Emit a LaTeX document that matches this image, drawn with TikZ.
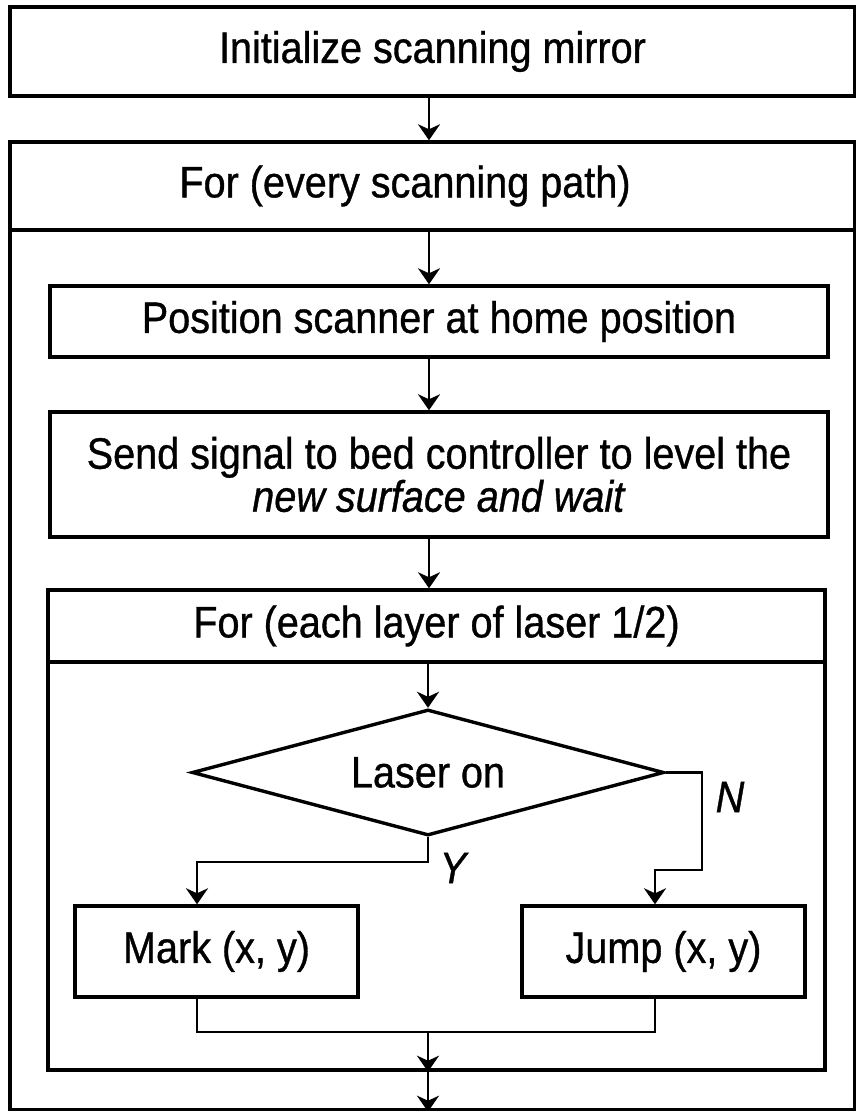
\documentclass[tikz,border=0pt]{standalone}
\usepackage{fontspec}
\setmainfont{Liberation Sans}[FakeStretch=0.9,FakeBold=0.8]
\usetikzlibrary{arrows.meta,shapes.geometric}
\begin{document}
\begin{tikzpicture}[x=1pt,y=-1pt,
  box/.style={draw,line width=3.4pt,rectangle,inner sep=0pt,font=\fontsize{44}{43}\selectfont},
  dec/.style={draw,line width=3.4pt,diamond,inner sep=0pt,aspect=3.75,font=\fontsize{44}{43}\selectfont},
  arr/.style={line width=2.6pt,-{Stealth[length=16pt,width=22pt,inset=5pt]}},
  conn/.style={line width=2.6pt},
  lbl/.style={inner sep=0pt,font=\fontsize{44}{43}\selectfont\itshape}]
\useasboundingbox (0,0) rectangle (856,1111);
\fill[white] (0,0) rectangle (856,1111);
\coordinate (axis) at (429,0);
\coordinate (mj) at (197,0);
\coordinate (jx) at (655,0);
\coordinate (ybend) at (0,862);
\coordinate (nx) at (702,870);
\coordinate (merge) at (428,1032);
% boxes
\node[box,minimum width=845,minimum height=89] (init) at (432.5,51.5) {Initialize scanning mirror};
\node[box,minimum width=845,minimum height=968] (outer) at (432.5,626) {};
\node[box,minimum width=845,minimum height=88] (hdr1) at (432.5,186) {\hspace*{-55pt}For (every scanning path)};
\node[box,minimum width=778,minimum height=71] (pos) at (439,321.5) {Position scanner at home position};
\node[box,minimum width=778,minimum height=125,align=center] (send) at (439,474.5) {Send signal to bed controller to level the\\\textit{new surface and wait}};
\node[box,minimum width=777,minimum height=480] (inner) at (436.5,830) {};
\node[box,minimum width=777,minimum height=72] (hdr2) at (436.5,626) {For (each layer of laser 1/2)};
\node[dec,minimum width=472,minimum height=126] (laser) at (428,772.5) {Laser on};
\node[box,minimum width=283,minimum height=91] (mark) at (216.5,951.5) {Mark (x, y)};
\node[box,minimum width=283,minimum height=91] (jump) at (663.5,951.5) {Jump (x, y)};
\node[lbl] (ylab) at (453,868) {Y};
\node[lbl] (nlab) at (730,797) {N};
% connectors
\draw[arr] (init.south -| axis) -- (outer.north -| axis);
\draw[arr] (hdr1.south -| axis) -- (pos.north -| axis);
\draw[arr] (pos.south -| axis) -- (send.north -| axis);
\draw[arr] (send.south -| axis) -- (inner.north -| axis);
\draw[arr] (hdr2.south -| laser.north) -- (laser.north);
\draw[arr] (laser.south) -- (laser.south |- ybend) -| (mark.north -| mj);
\draw[arr] (laser.east) -| (nx) -| (jump.north -| jx);
\draw[conn] (mark.south -| mj) |- (merge) -| (jump.south -| jx);
\draw[arr] (merge) -- (merge |- inner.south);
\draw[arr] (inner.south -| merge) -- (outer.south -| merge);
\end{tikzpicture}
\end{document}
